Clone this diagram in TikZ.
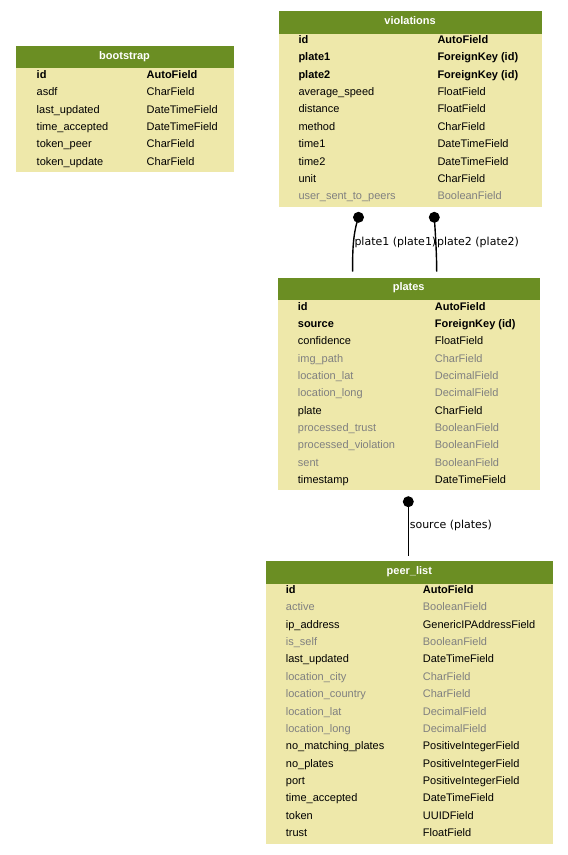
\documentclass[tikz,border=0pt]{standalone}
\usepackage{fontspec}
\setmainfont{Liberation Sans}
\newfontfamily\edgefont{DejaVu Sans}
\definecolor{hdrgreen}{HTML}{6B8E23}
\definecolor{bodyyellow}{HTML}{EEE8AA}
\definecolor{greytext}{HTML}{808080}
\tikzset{
  hdrbox/.style={fill=hdrgreen, draw=none, inner sep=0pt, anchor=north west},
  bodybox/.style={fill=bodyyellow, draw=none, inner sep=0pt, anchor=north west},
  hdrtext/.style={text=white, font=\fontsize{11}{13}\selectfont\bfseries, inner sep=0pt, anchor=base},
  rowb/.style={text=black, font=\fontsize{11}{13}\selectfont\bfseries, inner sep=0pt, anchor=base west},
  rown/.style={text=black, font=\fontsize{11}{13}\selectfont, inner sep=0pt, anchor=base west},
  rowg/.style={text=greytext, font=\fontsize{11}{13}\selectfont, inner sep=0pt, anchor=base west},
  dotnode/.style={circle, fill=black, minimum size=11pt, inner sep=0pt},
  edgelabel/.style={font=\edgefont\fontsize{11}{13}\selectfont, inner sep=0pt, anchor=base west},
  conn/.style={draw=black, line width=1.4pt}
}
\begin{document}
\begin{tikzpicture}[x=1pt,y=-1pt]
\useasboundingbox (0,0) rectangle (568,855);

% ---------- bootstrap ----------
\node[bodybox, minimum width=217.3, minimum height=103.5] (bootbody) at (16,68) {};
\node[hdrbox, minimum width=217.3, minimum height=22] (boothead) at (16,46) {};
\node[hdrtext] (boottitle) at (124.6,59.5) {bootstrap};
\foreach \n/\t/\s [count=\i from 0] in {
  id/AutoField/rowb,
  asdf/CharField/rown,
  last\_updated/DateTimeField/rown,
  time\_accepted/DateTimeField/rown,
  token\_peer/CharField/rown,
  token\_update/CharField/rown}{
  \node[\s] (bn\i) at (36.5,78.3+17.4*\i) {\n};
  \node[\s] (bt\i) at (146.5,78.3+17.4*\i) {\t};
}

% ---------- violations ----------
\node[bodybox, minimum width=263.2, minimum height=173.2] (violbody) at (278.5,33.5) {};
\node[hdrbox, minimum width=263.2, minimum height=22.5] (violhead) at (278.5,11) {};
\node[hdrtext] (violtitle) at (410.1,24) {violations};
\foreach \n/\t/\s [count=\i from 0] in {
  id/AutoField/rowb,
  plate1/ForeignKey (id)/rowb,
  plate2/ForeignKey (id)/rowb,
  average\_speed/FloatField/rown,
  distance/FloatField/rown,
  method/CharField/rown,
  time1/DateTimeField/rown,
  time2/DateTimeField/rown,
  unit/CharField/rown,
  user\_sent\_to\_peers/BooleanField/rowg}{
  \node[\s] (vn\i) at (298.3,43.3+17.4*\i) {\n};
  \node[\s] (vt\i) at (437.3,43.3+17.4*\i) {\t};
}

% ---------- plates ----------
\node[bodybox, minimum width=261.3, minimum height=190.7] (platbody) at (278,299.3) {};
\node[hdrbox, minimum width=261.3, minimum height=22] (plathead) at (278,277.3) {};
\node[hdrtext] (plattitle) at (408.7,290.5) {plates};
\foreach \n/\t/\s [count=\i from 0] in {
  id/AutoField/rowb,
  source/ForeignKey (id)/rowb,
  confidence/FloatField/rown,
  img\_path/CharField/rowg,
  location\_lat/DecimalField/rowg,
  location\_long/DecimalField/rowg,
  plate/CharField/rown,
  processed\_trust/BooleanField/rowg,
  processed\_violation/BooleanField/rowg,
  sent/BooleanField/rowg,
  timestamp/DateTimeField/rown}{
  \node[\s] (pn\i) at (297.7,310+17.34*\i) {\n};
  \node[\s] (pt\i) at (434.7,310+17.34*\i) {\t};
}

% ---------- peer_list ----------
\node[bodybox, minimum width=286.7, minimum height=260] (peerbody) at (266,583.3) {};
\node[hdrbox, minimum width=286.7, minimum height=22.3] (peerhead) at (266,561) {};
\node[hdrtext] (peertitle) at (409.3,574.5) {peer\_list};
\foreach \n/\t/\s [count=\i from 0] in {
  id/AutoField/rowb,
  active/BooleanField/rowg,
  ip\_address/GenericIPAddressField/rown,
  is\_self/BooleanField/rowg,
  last\_updated/DateTimeField/rown,
  location\_city/CharField/rowg,
  location\_country/CharField/rowg,
  location\_lat/DecimalField/rowg,
  location\_long/DecimalField/rowg,
  no\_matching\_plates/PositiveIntegerField/rown,
  no\_plates/PositiveIntegerField/rown,
  port/PositiveIntegerField/rown,
  time\_accepted/DateTimeField/rown,
  token/UUIDField/rown,
  trust/FloatField/rown}{
  \node[\s] (qn\i) at (285.7,593.3+17.39*\i) {\n};
  \node[\s] (qt\i) at (422.7,593.3+17.39*\i) {\t};
}

% ---------- connectors ----------
\node[dotnode] (dot1) at (358.5,217.3) {};
\node[dotnode] (dot2) at (434.3,217.3) {};
\node[dotnode] (dot3) at (408.3,501.7) {};
\coordinate (end1) at (352.7,271.5);
\coordinate (end2) at (436.7,271.5);
\coordinate (end3) at (408.3,555.5);
\draw[conn] (dot1.center) .. controls (353.5,232) and (352.3,248) .. (end1);
\draw[conn] (dot2.center) .. controls (435.5,235) and (436.7,255) .. (end2);
\draw[conn] (dot3.center) -- (end3);
\node[edgelabel] (lab1) at (354.3,245.2) {plate1 (plate1)};
\node[edgelabel] (lab2) at (436.9,245.2) {plate2 (plate2)};
\node[edgelabel] (lab3) at (409.6,528.7) {source (plates)};
\end{tikzpicture}
\end{document}
